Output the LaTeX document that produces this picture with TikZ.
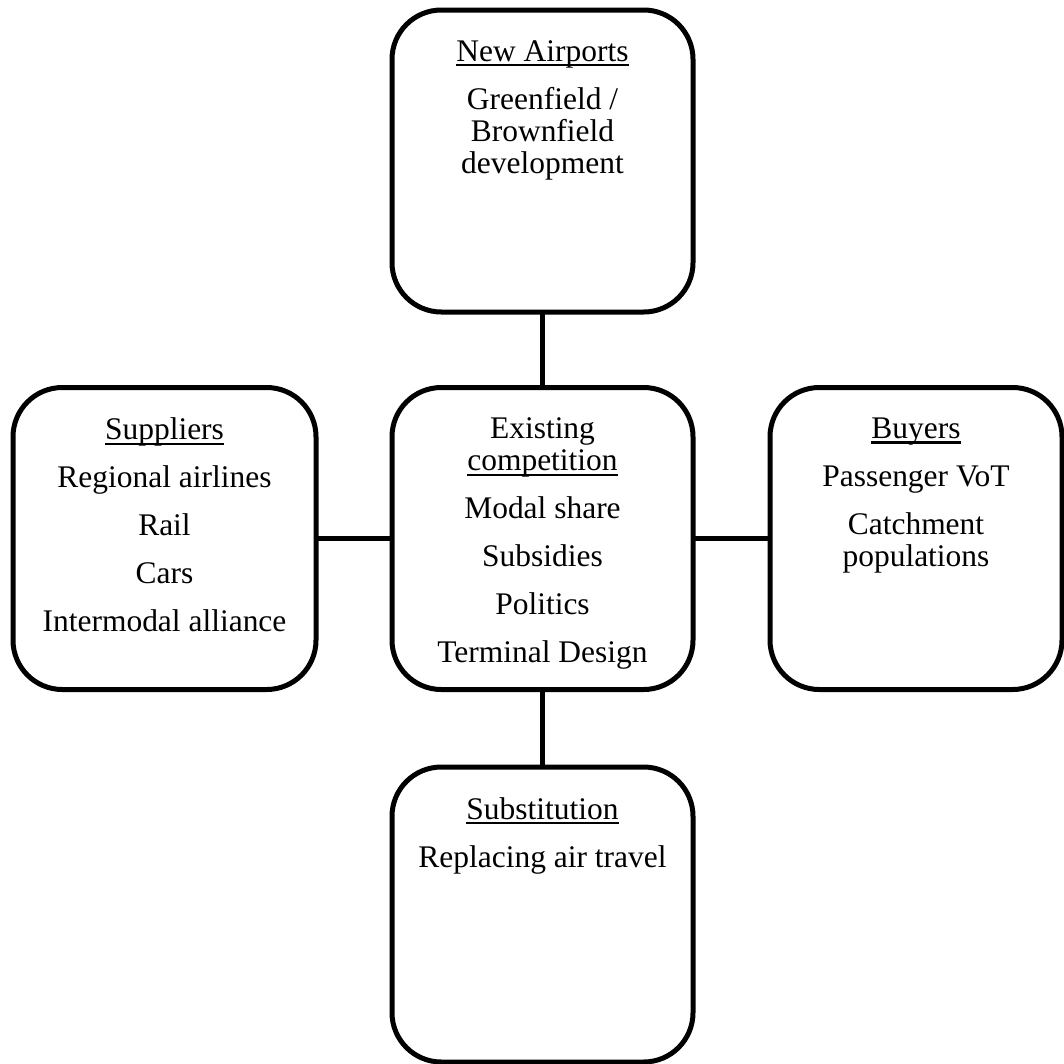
\documentclass[tikz,border=0pt]{standalone}
\usepackage{fontspec}
\setmainfont{Liberation Serif}
% underline at a fixed distance below the baseline
\newcommand\undl[1]{\leavevmode\setbox0\hbox{#1}\rlap{\rule[-3.9pt]{\wd0}{1.6pt}}\box0}
\newcommand\parskp{\\[12pt]}
\begin{document}
\begin{tikzpicture}[x=0.75pt,y=-0.75pt,
  card/.style={draw=black,line width=3.75pt,rounded corners=37pt,inner sep=0pt,outer sep=0pt,fill=white},
  blurb/.style={anchor=north,inner sep=0pt,align=center,font=\fontsize{23.6}{24}\selectfont},
  link/.style={draw=black,line width=3.75pt}]
\path[fill=white,use as bounding box] (0,0) rectangle (1064,1064);

% boxes
\node[card,minimum width=225.75pt,minimum height=226.5pt] (na) at (542.5,161) {};
\node[card,minimum width=225.75pt,minimum height=226.5pt] (ec) at (542.5,538.5) {};
\node[card,minimum width=227.25pt,minimum height=226.5pt] (su) at (164.5,538.5) {};
\node[card,minimum width=219pt,minimum height=226.5pt] (bu) at (916,538.5) {};
\node[card,minimum width=225.75pt,minimum height=221.25pt] (sb) at (542.5,914.5) {};

% connectors
\draw[link] (na.south) -- (ec.north);
\draw[link] (ec.south) -- (sb.north);
\draw[link] (su.east) -- (ec.west);
\draw[link] (ec.east) -- (bu.west);

% texts
\node[blurb] (nat) at ([yshift=-22.5pt]na.north)
  {\undl{New Airports}\parskp Greenfield /\\ Brownfield\\ development};
\node[blurb] (ect) at ([yshift=-22.5pt]ec.north)
  {Existing\\ \undl{competition}\parskp Modal share\parskp Subsidies\parskp Politics\parskp Terminal Design};
\node[blurb] (sut) at ([yshift=-22.5pt]su.north)
  {\undl{Suppliers}\parskp Regional airlines\parskp Rail\parskp Cars\parskp Intermodal alliance};
\node[blurb] (but) at ([yshift=-22.5pt]bu.north)
  {\undl{Buyers}\parskp Passenger VoT\parskp Catchment\\ populations};
\node[blurb] (sbt) at ([yshift=-22.5pt]sb.north)
  {\undl{Substitution}\parskp Replacing air travel};
\end{tikzpicture}
\end{document}
